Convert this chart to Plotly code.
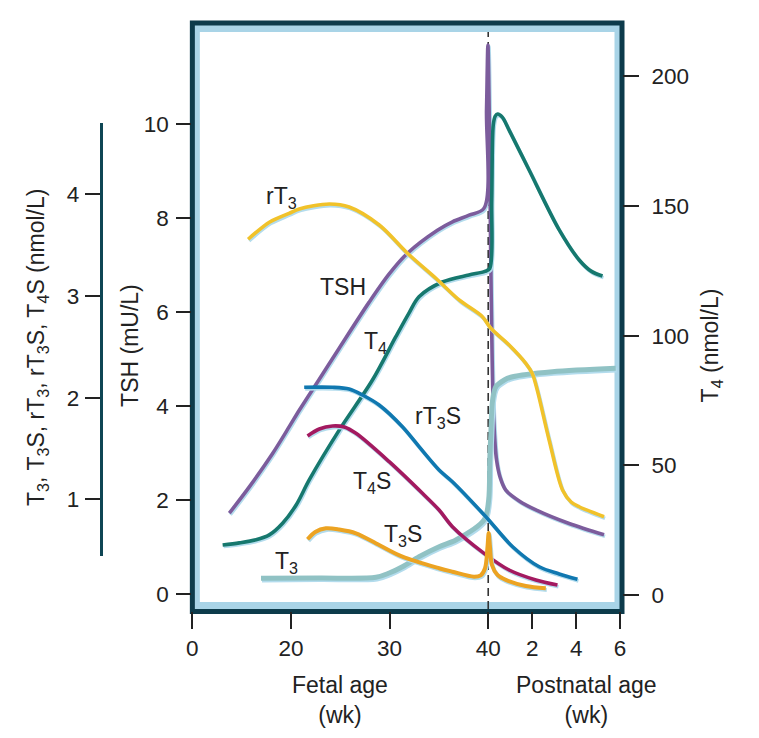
import plotly.graph_objects as go

# ---------------- data (x in gestational weeks; postnatal week n -> 40 + n) ----------------
tsh_wk = [7.5, 11.55, 16.27, 19.65, 20.84, 22.87, 24.89, 27.93, 29.96, 31.81, 34.85, 36.37, 38.06, 39.58,
          39.83, 39.97, 40.05, 40.11, 40.18, 40.25, 40.38, 40.55, 40.80, 41.41, 42.17, 43.68, 45.27]
tsh_val = [1.72, 2.28, 2.99, 3.56, 3.91, 4.57, 5.23, 6.21, 6.81, 7.25, 7.74, 7.92, 8.06, 8.21,
           10.30, 11.68, 10.09, 7.32, 4.98, 3.70, 2.85, 2.47, 2.21, 1.98, 1.79, 1.50, 1.26]

t4_wk = [6.14, 9.52, 12.91, 15.6, 18.30, 20.54, 21.85, 24.89, 28.26, 30.63, 31.98, 32.98, 35.34,
         38.04, 39.66, 40.07, 40.16, 40.23, 40.32, 40.43, 40.64, 40.95, 41.86, 43.23, 44.14, 44.68, 45.20]
t4_val = [19.3, 20.1, 21.3, 23.2, 27.7, 34.8, 44.4, 63.6, 82.9, 99.6, 108.8, 115.0, 120.7,
          123.4, 124.8, 125.9, 152.3, 181.3, 184.7, 185.5, 184.3, 179.3, 163.9, 140.8, 129.2, 124.9, 123.0]

rt3_wk = [11.31, 15.70, 19.62, 20.84, 23.88, 25.90, 28.95, 31.81, 34.85, 37.05, 39.41, 40.12,
          40.95, 41.71, 42.00, 42.23, 42.77, 43.38, 43.77, 44.14, 45.27]
rt3_val = [3.558, 3.728, 3.813, 3.856, 3.905, 3.875, 3.698, 3.420, 3.16, 2.961, 2.796, 2.682,
           2.518, 2.338, 2.24, 2.075, 1.584, 1.092, 0.974, 0.927, 0.829]

rt3s_wk = [21.34, 24.21, 25.90, 27.25, 28.94, 31.30, 32.99, 35.02, 36.37, 39.76, 41.11, 42.32, 43.23, 44.06]
rt3s_val = [2.102, 2.102, 2.085, 2.026, 1.928, 1.714, 1.518, 1.289, 1.173, 0.829, 0.534, 0.337, 0.266, 0.213]

t4s_wk = [21.68, 22.87, 24.21, 25.40, 26.59, 29.96, 33.33, 35.02, 36.37, 39.58, 40.95, 42.17, 43.15]
t4s_val = [1.623, 1.692, 1.721, 1.711, 1.649, 1.370, 1.059, 0.895, 0.731, 0.469, 0.305, 0.207, 0.157]

t3s_wk = [21.68, 22.46, 23.54, 24.89, 26.59, 28.94, 31.30, 35.02, 36.37, 38.56, 39.24, 39.68, 39.93,
          40.02, 40.08, 40.17, 40.42, 40.80, 41.71, 42.62]
t3s_val = [0.607, 0.679, 0.715, 0.703, 0.666, 0.551, 0.436, 0.322, 0.288, 0.239, 0.253, 0.322, 0.534,
           0.669, 0.534, 0.354, 0.256, 0.207, 0.148, 0.125]

t3_wk = [13.92, 22.87, 28.62, 29.96, 31.30, 32.99, 35.02, 36.72, 39.58, 40.02, 40.07, 40.12, 40.20,
         40.35, 40.73, 41.11, 42.92, 45.80]
t3_val = [0.223, 0.226, 0.233, 0.275, 0.337, 0.436, 0.534, 0.600, 0.797, 0.993, 1.387, 1.649, 1.977,
          2.108, 2.174, 2.206, 2.255, 2.289]

x_tick_weeks = [0, 20, 30, 40, 42, 44, 46]
x_tick_text = ["0", "20", "30", "40", "2", "4", "6"]
tsh_ticks = [0, 2, 4, 6, 8, 10]
t4_ticks = [0, 50, 100, 150, 200]
nmol_ticks = [1, 2, 3, 4]

# ---------------- geometry (screen px; page has an 8px body margin) ----------------
FIG_W, FIG_H = 759, 738
OFF = 8
PLOT_L, PLOT_R, PLOT_T, PLOT_B = 192.5, 622.5, 23.0, 611.0   # framed panel on screen
M_L = 10
M_R = FIG_W - (PLOT_R - OFF)
M_T = PLOT_T - OFF
M_B = FIG_H - (PLOT_B - OFF)
PAPER_W = FIG_W - M_L - M_R
PAPER_H = FIG_H - M_T - M_B
PX_PER_T = 9.87           # px per axis unit (1 fetal week between 20 and 40)
POST_SCALE = 2.229        # axis units per postnatal week
FETAL_EARLY = 0.5         # axis units per week before week 20


def wk_to_axis(w):
    if w <= 20:
        return w * FETAL_EARLY
    if w <= 40:
        return 10 + (w - 20)
    return 30 + (w - 40) * POST_SCALE


def px_x(px):
    return (px - OFF - M_L) / PAPER_W


def px_y(py):
    return (PLOT_B - py) / PAPER_H


def y_range(zero_px, px_per_unit):
    return [(zero_px - PLOT_B) / px_per_unit, (zero_px - PLOT_T) / px_per_unit]


TSH_ZERO, TSH_PPU = 594, 47.0
T4_ZERO, T4_PPU = 595, 2.593
NM_ZERO, NM_PPU = 601, 101.67

FONT = "Liberation Sans, Arial, sans-serif"
TXT = "#222222"
DARK = "#0d3b4b"
BAND = "#a9d4e7"
SHADOW = "#b3dced"
TICK_SIZE = 22.5
TEXT_SIZE = 23

series = [
    # name, weeks, values, yaxis, color, width, px-per-unit
    ("TSH", tsh_wk, tsh_val, "y", "#7c5c9c", 3.6, TSH_PPU),
    ("T4", t4_wk, t4_val, "y2", "#16786e", 3.6, T4_PPU),
    ("T3", t3_wk, t3_val, "y3", "#90c2c4", 5.0, NM_PPU),
    ("rT3", rt3_wk, rt3_val, "y3", "#f1c22a", 3.6, NM_PPU),
    ("rT3S", rt3s_wk, rt3s_val, "y3", "#1078b0", 3.6, NM_PPU),
    ("T4S", t4s_wk, t4s_val, "y3", "#a31a60", 3.6, NM_PPU),
    ("T3S", t3s_wk, t3s_val, "y3", "#eca322", 4.0, NM_PPU),
]

fig = go.Figure()
SH_DX, SH_DY = 1.0, 1.6
SMOOTH = 0.9
for name, wk, val, yax, color, width, ppu in series:
    xs = [wk_to_axis(w) for w in wk]
    # soft light-blue drop shadow (offset by a pixel or two)
    fig.add_trace(go.Scatter(
        x=[x + SH_DX / PX_PER_T for x in xs], y=[v - SH_DY / ppu for v in val],
        yaxis=yax, mode="lines", line=dict(color=SHADOW, width=width, shape="spline", smoothing=SMOOTH),
        hoverinfo="skip", showlegend=False))
    fig.add_trace(go.Scatter(
        x=xs, y=val, yaxis=yax, mode="lines", name=name,
        line=dict(color=color, width=width, shape="spline", smoothing=SMOOTH),
        showlegend=False))

# dummy trace for the short far-left axis
fig.add_trace(go.Scatter(x=[None], y=[None], yaxis="y4", showlegend=False, hoverinfo="skip"))

tick_font = dict(family=FONT, size=TICK_SIZE, color=TXT)
x_range = [0, (PLOT_R - PLOT_L) / PX_PER_T]

fig.update_layout(
    width=FIG_W, height=FIG_H,
    margin=dict(l=M_L, r=M_R, t=M_T, b=M_B, autoexpand=False),
    paper_bgcolor="white", plot_bgcolor="rgba(0,0,0,0)",
    font=dict(family=FONT, size=TEXT_SIZE, color=TXT),
    hovermode=False,
    xaxis=dict(domain=[px_x(PLOT_L), 1], range=x_range, showgrid=False, zeroline=False, showline=False,
               tickmode="array", tickvals=[wk_to_axis(w) for w in x_tick_weeks], ticktext=x_tick_text,
               ticks="outside", ticklen=17, tickwidth=1.8, tickcolor="#222", tickfont=tick_font,
               ticklabelstandoff=0),
    yaxis=dict(range=y_range(TSH_ZERO, TSH_PPU), showgrid=False, zeroline=False, showline=False,
               tickmode="array", tickvals=tsh_ticks, ticks="outside", ticklen=15, tickwidth=1.6,
               tickcolor="#222", tickfont=tick_font, ticklabelstandoff=3),
    yaxis2=dict(range=y_range(T4_ZERO, T4_PPU), overlaying="y", side="right", anchor="x",
                showgrid=False, zeroline=False, showline=False,
                tickmode="array", tickvals=t4_ticks, ticks="outside", ticklen=16, tickwidth=1.6,
                tickcolor="#222", tickfont=tick_font, ticklabelstandoff=8),
    yaxis3=dict(range=y_range(NM_ZERO, NM_PPU), overlaying="y", anchor="x", visible=False),
    yaxis4=dict(domain=[px_y(556), px_y(123)],
                range=[(NM_ZERO - 556) / NM_PPU, (NM_ZERO - 123) / NM_PPU],
                anchor="free", position=px_x(101), side="left",
                showgrid=False, zeroline=False, showline=True, linewidth=3.2, linecolor="#0f4654",
                tickmode="array", tickvals=nmol_ticks, ticks="outside", ticklen=15, tickwidth=1.6,
                tickcolor="#222", tickfont=tick_font, ticklabelstandoff=1),
)

shapes = [
    dict(type="rect", xref="paper", yref="paper", x0=px_x(PLOT_L), x1=px_x(PLOT_R),
         y0=px_y(611.5), y1=px_y(23), fillcolor=BAND, line=dict(color=DARK, width=5), layer="below"),
    dict(type="rect", xref="paper", yref="paper", x0=px_x(200), x1=px_x(615),
         y0=px_y(602), y1=px_y(32), fillcolor="white", line=dict(width=0), layer="below"),
    dict(type="line", xref="x", yref="paper", x0=wk_to_axis(40), x1=wk_to_axis(40),
         y0=px_y(609), y1=px_y(32), line=dict(color="#333", width=1.6, dash="8px,5px"), layer="below"),
]
fig.update_layout(shapes=shapes)

ann = []


def label(text, px, py, angle=0, size=TEXT_SIZE):
    ann.append(dict(text=text, xref="paper", yref="paper", x=px_x(px), y=px_y(py),
                    xanchor="center", yanchor="middle", showarrow=False, textangle=angle,
                    font=dict(family=FONT, size=size, color=TXT)))


label("rT<sub>3</sub>", 282, 197)
label("TSH", 343, 287)
label("T<sub>4</sub>", 376, 342)
label("rT<sub>3</sub>S", 438, 417)
label("T<sub>4</sub>S", 372, 482)
label("T<sub>3</sub>S", 403, 535)
label("T<sub>3</sub>", 287, 562)
label("T<sub>3</sub>, T<sub>3</sub>S, rT<sub>3</sub>, rT<sub>3</sub>S, T<sub>4</sub>S (nmol/L)", 38, 347, angle=-90)
label("TSH (mU/L)", 130, 345, angle=-90)
label("T<sub>4</sub> (nmol/L)", 712, 345, angle=-90)
label("Fetal age<br>(wk)", 340, 700)
label("Postnatal age<br>(wk)", 587, 700)
fig.update_layout(annotations=ann)

fig.write_html("out.html")
